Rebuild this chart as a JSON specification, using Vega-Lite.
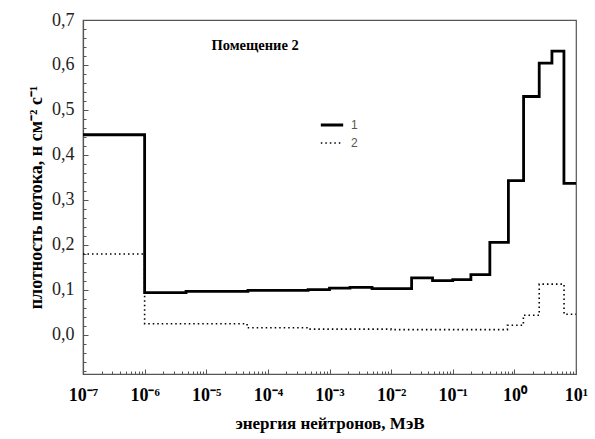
{
  "$schema": "https://vega.github.io/schema/vega-lite/v6.json",
  "width": 493,
  "height": 354,
  "autosize": "none",
  "padding": {"left": 83, "top": 20, "right": 19, "bottom": 65},
  "background": "white",
  "config": {
    "view": {"stroke": "#555", "strokeWidth": 1.2},
    "font": "Liberation Serif",
    "axis": {"labelOverlap": false, "labelFlush": false, "labelBound": false}
  },
  "datasets": {
    "flux": [
      {"E": 1e-7, "v": 0.445, "s": "1"},
      {"E": 1e-6, "v": 0.094, "s": "1"},
      {"E": 4.7e-6, "v": 0.097, "s": "1"},
      {"E": 4.75e-5, "v": 0.099, "s": "1"},
      {"E": 4.5e-4, "v": 0.101, "s": "1"},
      {"E": 1e-3, "v": 0.104, "s": "1"},
      {"E": 2.15e-3, "v": 0.106, "s": "1"},
      {"E": 4.9e-3, "v": 0.103, "s": "1"},
      {"E": 0.0215, "v": 0.127, "s": "1"},
      {"E": 0.047, "v": 0.121, "s": "1"},
      {"E": 0.1, "v": 0.123, "s": "1"},
      {"E": 0.197, "v": 0.134, "s": "1"},
      {"E": 0.4, "v": 0.206, "s": "1"},
      {"E": 0.8, "v": 0.343, "s": "1"},
      {"E": 1.41, "v": 0.53, "s": "1"},
      {"E": 2.53, "v": 0.604, "s": "1"},
      {"E": 4.07, "v": 0.631, "s": "1"},
      {"E": 6.37, "v": 0.337, "s": "1"},
      {"E": 10, "v": 0.337, "s": "1"},
      {"E": 1e-7, "v": 0.18, "s": "2"},
      {"E": 1e-6, "v": 0.025, "s": "2"},
      {"E": 4.6e-5, "v": 0.016, "s": "2"},
      {"E": 4.5e-4, "v": 0.013, "s": "2"},
      {"E": 1e-2, "v": 0.012, "s": "2"},
      {"E": 0.77, "v": 0.0215, "s": "2"},
      {"E": 1.4, "v": 0.044, "s": "2"},
      {"E": 2.53, "v": 0.113, "s": "2"},
      {"E": 6.4, "v": 0.046, "s": "2"},
      {"E": 10, "v": 0.046, "s": "2"}
    ]
  },
  "layer": [
    {
      "data": {"name": "flux"},
      "mark": {"type": "line", "interpolate": "step-after", "color": "black", "clip": true},
      "encoding": {
        "x": {
          "field": "E", "type": "quantitative",
          "scale": {"type": "log", "domain": [1e-7, 10], "nice": false},
          "axis": {
            "title": "энергия нейтронов, МэВ",
            "titleFont": "Liberation Serif", "titleFontSize": 17, "titleFontWeight": "bold",
            "titleColor": "black", "titlePadding": 9,
            "tickCount": 200,
            "values": [1e-7,2e-7,3e-7,4e-7,5e-7,6e-7,7e-7,8e-7,9e-7,
                       1e-6,2e-6,3e-6,4e-6,5e-6,6e-6,7e-6,8e-6,9e-6,
                       1e-5,2e-5,3e-5,4e-5,5e-5,6e-5,7e-5,8e-5,9e-5,
                       1e-4,2e-4,3e-4,4e-4,5e-4,6e-4,7e-4,8e-4,9e-4,
                       1e-3,2e-3,3e-3,4e-3,5e-3,6e-3,7e-3,8e-3,9e-3,
                       1e-2,2e-2,3e-2,4e-2,5e-2,6e-2,7e-2,8e-2,9e-2,
                       0.1,0.2,0.3,0.4,0.5,0.6,0.7,0.8,0.9,
                       1,2,3,4,5,6,7,8,9,10],
            "labelExpr": "abs(log(datum.value)/LN10 - round(log(datum.value)/LN10)) < 1e-6 ? ['10⁻⁷','10⁻⁶','10⁻⁵','10⁻⁴','10⁻³','10⁻²','10⁻¹','10⁰','10¹'][round(log(datum.value)/LN10)+7] : ''",
            "labelFont": "Liberation Serif", "labelFontSize": 18, "labelFontWeight": "bold",
            "labelColor": "black", "labelPadding": 17, "labelOverlap": false, "labelFlush": false,
            "tickSize": {"condition": {"test": "abs(log(datum.value)/LN10 - round(log(datum.value)/LN10)) < 1e-6", "value": -5}, "value": -3},
            "tickColor": "#555", "domainColor": "#555", "domainWidth": 1.2,
            "grid": false
          }
        },
        "y": {
          "field": "v", "type": "quantitative",
          "scale": {"domain": [-0.0867, 0.7], "nice": false, "zero": false},
          "axis": {
            "title": "плотность потока, н см⁻² с⁻¹",
            "titleFont": "Liberation Serif", "titleFontSize": 18, "titleFontWeight": "bold",
            "titleColor": "black", "titlePadding": 6,
            "tickCount": 200,
            "values": [-0.08,-0.06,-0.04,-0.02,0,0.02,0.04,0.06,0.08,0.1,0.12,0.14,0.16,0.18,0.2,0.22,0.24,0.26,0.28,0.3,0.32,0.34,0.36,0.38,0.4,0.42,0.44,0.46,0.48,0.5,0.52,0.54,0.56,0.58,0.6,0.62,0.64,0.66,0.68,0.7],
            "labelExpr": "abs(datum.value*10 - round(datum.value*10)) < 1e-6 && datum.value > -0.001 ? replace(format(datum.value, '.1f'), '.', ',') : ''",
            "labelFont": "Liberation Serif", "labelFontSize": 18,
            "labelColor": "#222", "labelPadding": 14, "labelOverlap": false, "labelFlush": false,
            "tickSize": {"condition": {"test": "abs(datum.value*10 - round(datum.value*10)) < 1e-6", "value": -5}, "value": -3},
            "tickColor": "#555", "domainColor": "#555", "domainWidth": 1.2,
            "grid": false
          }
        },
        "strokeDash": {
          "field": "s", "type": "nominal",
          "scale": {"domain": ["1", "2"], "range": [[1, 0], [1.5, 3]]},
          "legend": {
            "title": null, "orient": "none", "legendX": 236, "legendY": 92,
            "symbolType": "stroke", "symbolSize": 500, "symbolStrokeColor": "black",
            "labelFont": "Liberation Sans", "labelFontSize": 12, "labelColor": "#555",
            "rowPadding": 0, "labelOffset": 6
          }
        },
        "strokeWidth": {
          "field": "s", "type": "nominal",
          "scale": {"domain": ["1", "2"], "range": [2.8, 1.6]},
          "legend": {
            "title": null, "orient": "none", "legendX": 236, "legendY": 92,
            "symbolType": "stroke", "symbolSize": 500, "symbolStrokeColor": "black",
            "labelFont": "Liberation Sans", "labelFontSize": 12, "labelColor": "#555",
            "rowPadding": 0, "labelOffset": 6
          }
        }
      }
    },
    {
      "data": {"values": [{"label": "Помещение 2"}]},
      "mark": {"type": "text", "font": "Liberation Serif", "fontSize": 14.5, "fontWeight": "bold", "color": "black"},
      "encoding": {
        "x": {"datum": 6.2e-5, "type": "quantitative"},
        "y": {"datum": 0.642, "type": "quantitative"},
        "text": {"field": "label"}
      }
    }
  ]
}
